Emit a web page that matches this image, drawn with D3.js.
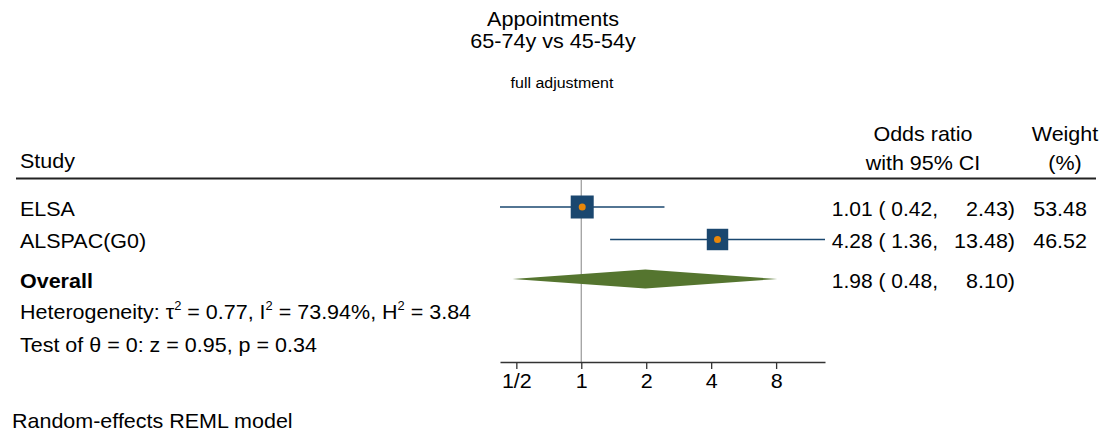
<!DOCTYPE html>
<html><head><meta charset="utf-8">
<script src="https://cdn.jsdelivr.net/npm/d3@7"></script>
<style>
html,body{margin:0;padding:0;background:#fff;}
text{font-family:"Liberation Sans",Arial,sans-serif;fill:#000;}
</style></head>
<body><svg id="chart" width="1106" height="434"></svg>
<script>
// ---- data ----
const studies = ["ELSA", "ALSPAC(G0)"];
const oddsRatio = [1.01, 4.28];
const ciLow = [0.42, 1.36];
const ciHigh = [2.43, 13.48];
const weights = [53.48, 46.52];
const overall = {label: "Overall", or: 1.98, lo: 0.48, hi: 8.10};
const tickValues = [0.5, 1, 2, 4, 8];
const tickLabels = ["1/2", "1", "2", "4", "8"];
const titleLines = ["Appointments", "65-74y vs 45-54y"];
const subtitle = "full adjustment";
const note = "Random-effects REML model";

const svg = d3.select("#chart");
const x = d3.scaleLog().base(2).domain([0.42, 13.48]).range([500, 825]);
const sq = d3.scaleSqrt().domain([0, d3.max(weights)]).range([0, 23]);
const navy = "#1a476f", orange = "#e8870a", green = "#55752f";
const fs = 20, SX = 1.075;

function txt(px, py, str, anchor, size, sx) {
  const t = svg.append("text")
    .attr("transform", `translate(${px},${py}) scale(${sx || SX},1)`)
    .attr("text-anchor", anchor || "start")
    .style("font-size", (size || fs) + "px")
    .style("white-space", "pre");
  if (str !== null) t.text(str);
  return t;
}

// titles
titleLines.forEach((d,i)=>txt(553, 25.5 + i*22, d, "middle", 20, 1.08));
txt(562, 88, subtitle, "middle", 15.5, 1.03);

// header
txt(20, 168, "Study");
txt(923, 141, "Odds ratio", "middle");
txt(923, 170, "with 95% CI", "middle");
txt(1065, 141, "Weight", "middle");
txt(1065, 170, "(%)", "middle");
svg.append("line").attr("x1",16).attr("x2",1096).attr("y1",178.5).attr("y2",178.5)
  .attr("stroke","#222").attr("stroke-width",2);

// reference line at 1
svg.append("line").attr("x1",x(1)).attr("x2",x(1)).attr("y1",180).attr("y2",362)
  .attr("stroke","#a0a0a0").attr("stroke-width",1.3);

// axis
const axisG = svg.append("g").attr("transform","translate(0,362)")
  .call(d3.axisBottom(x).tickValues(tickValues).tickFormat((d,i)=>tickLabels[i]).tickSize(7).tickSizeOuter(0).tickPadding(5));
axisG.select(".domain").attr("stroke","#333").attr("stroke-width",1.3);
axisG.selectAll(".tick line").attr("stroke","#333").attr("stroke-width",1.3);
axisG.selectAll(".tick text").style("font-size",fs+"px").style("font-family","Liberation Sans, Arial, sans-serif")
  .attr("fill","#000").attr("transform",`scale(${SX},1)`);

// study rows
const rowY = [207, 239.5];
const baseY = [216, 248];
const rows = studies.map((s,i)=>({s, or:oddsRatio[i], lo:ciLow[i], hi:ciHigh[i], w:weights[i], y:rowY[i], b:baseY[i]}));

svg.selectAll("line.ci").data(rows).enter().append("line")
  .attr("x1",d=>x(d.lo)).attr("x2",d=>x(d.hi)).attr("y1",d=>d.y).attr("y2",d=>d.y)
  .attr("stroke",navy).attr("stroke-width",1.6);
svg.selectAll("rect.box").data(rows).enter().append("rect")
  .attr("x",d=>x(d.or)-sq(d.w)/2).attr("y",d=>d.y-sq(d.w)/2)
  .attr("width",d=>sq(d.w)).attr("height",d=>sq(d.w)).attr("fill",navy);
svg.selectAll("circle.pt").data(rows).enter().append("circle")
  .attr("cx",d=>x(d.or)).attr("cy",d=>d.y).attr("r",3.5).attr("fill",orange);

const f2 = d3.format(".2f");
rows.forEach(d=>{
  txt(20, d.b, d.s);
  txt(938, d.b, `${f2(d.or)} ( ${f2(d.lo)},`, "end", fs, 1.05);
  txt(1015, d.b, `${f2(d.hi)})`, "end");
  txt(1087, d.b, f2(d.w), "end");
});

// overall
const oy = 279;
svg.append("path")
  .attr("d",`M${x(overall.lo)},${oy} L${x(overall.or)},${oy-9.5} L${x(overall.hi)},${oy} L${x(overall.or)},${oy+9.5} Z`)
  .attr("fill",green);
txt(20, 288, overall.label).style("font-weight","bold");
txt(938, 288, `${f2(overall.or)} ( ${f2(overall.lo)},`, "end", fs, 1.05);
txt(1015, 288, `${f2(overall.hi)})`, "end");

// heterogeneity
const het = txt(20, 319, null);
het.append("tspan").text("Heterogeneity: τ");
het.append("tspan").attr("dy",-9).style("font-size","12px").text("2");
het.append("tspan").attr("dy",9).text(" = 0.77, I");
het.append("tspan").attr("dy",-9).style("font-size","12px").text("2");
het.append("tspan").attr("dy",9).text(" = 73.94%, H");
het.append("tspan").attr("dy",-9).style("font-size","12px").text("2");
het.append("tspan").attr("dy",9).text(" = 3.84");
txt(20, 352, "Test of θ = 0: z = 0.95, p = 0.34");

txt(12, 428, note);
</script></body></html>
